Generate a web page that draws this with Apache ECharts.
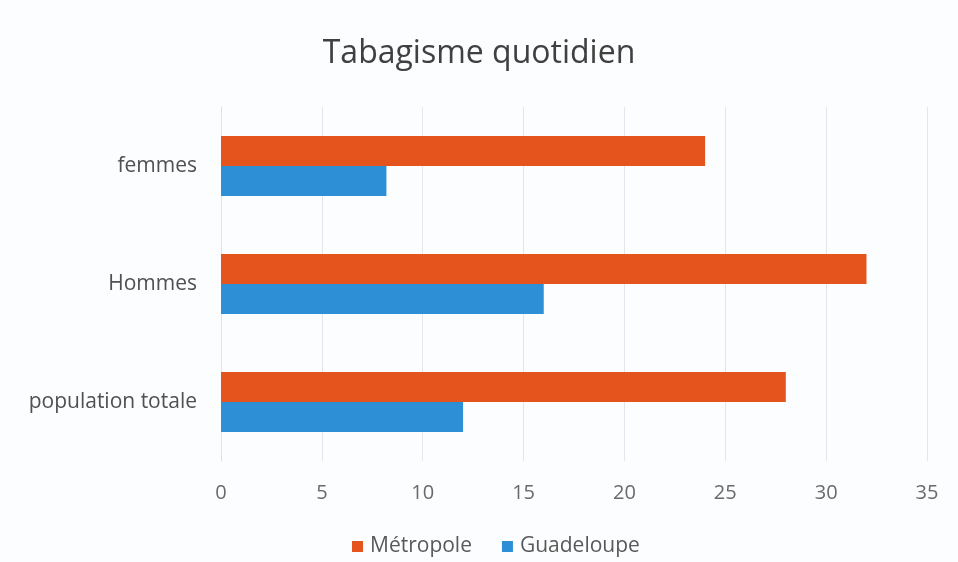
<!DOCTYPE html>
<html><head><meta charset="utf-8">
<script src="https://cdn.jsdelivr.net/npm/echarts@6/dist/echarts.min.js"></script>
<style>html,body{margin:0;padding:0;background:#fcfdfe}#c{width:958px;height:562px}</style>
</head><body><div id="c"></div>
<script>
const categories = ['population totale', 'Hommes', 'femmes'];
const metropole = [28, 32, 24];
const guadeloupe = [12, 16, 8.2];
const xTicks = [0, 5, 10, 15, 20, 25, 30, 35];

const chart = echarts.init(document.getElementById('c'));
chart.setOption({
  backgroundColor: '#fcfdfe',
  animation: false,
  title: {
    text: 'Tabagisme quotidien', left: 'center', top: 33,
    textStyle: {fontFamily: 'Open Sans', fontWeight: 'normal', fontSize: 32, color: '#404040'}
  },
  legend: {
    bottom: 0, left: 347, itemWidth: 11, itemHeight: 11, itemGap: 30,
    icon: 'rect',
    textStyle: {fontFamily: 'Open Sans', fontSize: 21, color: '#595959', padding: [0, 0, 0, 2]},
    data: ['Métropole', 'Guadeloupe']
  },
  grid: {left: 221, right: 31, top: 107, bottom: 101, containLabel: false},
  xAxis: {
    type: 'value', min: xTicks[0], max: xTicks[xTicks.length - 1], interval: 5,
    axisLine: {show: false}, axisTick: {show: false},
    splitLine: {lineStyle: {color: '#e3e6ec', width: 1}},
    axisLabel: {fontFamily: 'Open Sans', fontSize: 20, color: '#6a6a6a', margin: 22}
  },
  yAxis: {
    type: 'category', data: categories,
    axisLine: {lineStyle: {color: '#dfe2e8'}}, axisTick: {show: false},
    axisLabel: {fontFamily: 'Open Sans', fontSize: 21, color: '#505050', margin: 24}
  },
  series: [
    {name: 'Métropole', type: 'bar', data: metropole, itemStyle: {color: '#e4541c'},
     barGap: '0%', barCategoryGap: '49%'},
    {name: 'Guadeloupe', type: 'bar', data: guadeloupe, itemStyle: {color: '#2d8fd5'},
     barGap: '0%', barCategoryGap: '49%'}
  ]
});
</script></body></html>
